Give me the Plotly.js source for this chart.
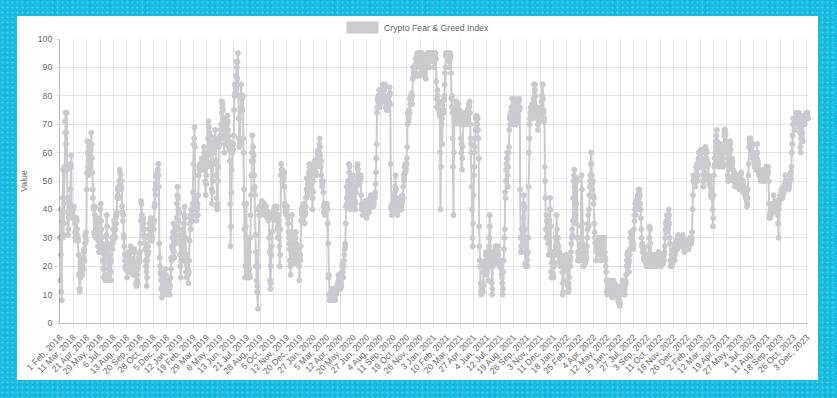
<!DOCTYPE html>
<html>
<head>
<meta charset="utf-8">
<script src="https://cdn.plot.ly/plotly-3.0.1.min.js"></script>
<style>
  html, body { margin: 0; padding: 0; }
  body {
    width: 837px; height: 398px; overflow: hidden; position: relative;
    background-color: #16bde0;
    background-image:
      radial-gradient(rgba(255,255,255,0.18) 1px, transparent 1.3px),
      radial-gradient(rgba(0,60,90,0.12) 1px, transparent 1.3px);
    background-size: 5px 5px, 7px 6px;
    background-position: 0 0, 2px 3px;
  }
  #panel { position: absolute; left: 17px; top: 16px; width: 801px; height: 364px; background: #ffffff; }
  #chart { position: absolute; left: 0; top: 0; width: 837px; height: 398px; }
</style>
</head>
<body>
<div id="panel"></div>
<div id="chart"></div>
<script>
// ---- data (daily Crypto Fear & Greed Index values) ----
const seriesName = 'Crypto Fear & Greed Index';
const startDate = '2018-02-01';
const missingDays = ['2018-04-14', '2018-04-15', '2018-04-16'];

const fng2018 = [
30,15,40,24,11,8,36,30,44,54,31,42,35,55,71,67,74,63,67,74,54,44,39,31,33,37,44,41,
38,47,56,55,59,40,37,38,40,41,40,37,41,37,35,32,30,29,31,37,36,33,31,30,29,24,17,12,11,12,18,
16,20,22,18,17,21,22,23,19,25,26,22,28,31,30,32,29,47,53,64,60,55,52,58,62,57,63,
54,56,61,67,63,58,53,47,44,41,40,32,31,38,41,36,30,33,35,37,33,30,27,31,29,25,27,32,36,40,42,
36,33,30,28,25,22,26,19,16,21,25,17,15,24,27,31,38,34,28,23,26,16,19,15,17,21,24,18,15,22,
27,30,26,28,33,29,33,36,31,35,30,33,37,35,38,39,44,47,45,48,44,47,50,54,53,49,52,47,48,50,41,
39,36,38,31,30,27,24,22,20,19,24,22,19,16,20,18,24,25,22,21,18,20,23,27,25,20,21,19,22,21,18,
17,21,25,26,20,17,19,18,14,13,15,17,14,19,22,21,23,24,22,25,28,36,43,42,38,37,33,36,37,35,
31,33,30,28,26,22,20,18,13,16,22,24,27,25,30,33,35,31,33,36,37,34,31,29,30,33,35,35,33,36,41,
42,47,45,49,52,48,51,53,50,54,56,52,48,28,23,20,18,17,15,12,9,13,11,10,12,14,16,18,15,17,
19,17,15,13,14,11,10,12,15,13,11,14,12,10,13,16,19,23,22,27,30,26,32,35,28,25,23,30,34,31,28
];

const fng2019 = [
33,37,42,45,48,44,40,36,39,31,29,24,20,16,22,27,24,30,33,28,22,25,35,38,41,37,30,24,18,21,16,
20,24,19,17,14,18,22,29,35,38,33,37,40,38,36,40,42,46,56,63,65,69,62,44,40,42,38,36,
41,40,42,38,45,52,55,54,55,56,54,55,56,54,58,57,55,54,56,58,62,60,56,54,50,45,49,52,55,57,59,
56,65,71,69,67,66,63,66,62,60,55,47,42,46,50,56,60,64,61,63,65,68,65,57,52,44,41,40,42,50,
55,62,64,63,65,63,66,68,70,74,78,76,77,75,72,70,65,60,63,68,70,72,68,66,64,70,73,71,68,66,62,
64,61,57,42,27,34,46,54,62,60,63,61,63,66,75,80,84,81,83,84,87,92,90,86,92,95,80,72,65,62,
64,63,75,80,84,79,76,79,75,80,65,60,47,42,33,16,20,34,30,42,26,20,18,16,22,30,25,19,17,16,30,
38,45,52,57,60,66,60,62,57,59,52,47,48,45,31,20,25,15,11,13,11,5,20,40,38,41,40,41,38,40,41,
40,43,42,40,41,40,39,41,42,40,38,39,40,41,39,38,37,38,39,38,36,37,30,25,15,12,14,20,24,27,
32,37,38,38,39,38,40,41,38,39,36,38,40,41,37,33,30,34,38,36,30,27,20,24,33,52,56,54,53,50,54,
50,51,52,53,48,42,41,39,40,38,41,40,41,38,37,35,32,30,28,26,22,20,17,21,22,30,38,32,31,28,
27,25,21,22,24,26,30,32,28,25,22,24,26,22,21,23,20,15,23,24,22,27,36,40,39,38,41,39,41,42,38
];

const fng2020 = [
38,35,38,39,41,44,47,51,47,45,49,46,47,53,56,55,53,54,52,48,49,50,47,40,44,46,50,56,55,57,56,
55,56,53,52,55,56,58,60,59,61,58,60,63,65,62,59,55,52,57,50,48,49,50,46,41,39,42,40,38,
40,39,41,40,42,41,40,35,28,16,17,10,8,10,9,8,11,9,10,12,10,9,8,12,10,11,12,9,8,11,10,
12,11,13,12,14,13,17,15,16,17,14,13,12,15,14,13,18,20,21,18,16,20,22,24,26,28,27,35,41,48,
44,42,48,50,45,49,56,53,55,44,40,42,45,47,50,46,48,52,50,48,45,41,42,43,40,42,46,50,48,52,55,
56,54,50,52,49,50,51,50,52,51,45,40,42,41,38,41,42,41,39,40,41,42,43,41,38,37,38,39,40,42,
41,40,39,42,43,44,42,45,43,41,42,43,44,42,41,43,42,44,45,44,46,49,53,58,63,74,76,79,78,80,79,
82,76,78,77,79,82,80,81,78,80,84,78,80,83,82,80,83,84,79,76,78,75,77,76,79,76,75,77,78,80,83,
81,77,56,41,40,38,40,42,41,39,41,43,45,42,46,48,52,47,44,42,40,38,39,41,40,42,41,43,40,42,
44,43,41,40,42,45,43,44,48,52,50,51,55,53,56,55,54,56,58,62,70,74,73,71,72,75,74,79,77,80,78,
79,81,77,80,86,90,88,87,89,88,90,91,93,88,87,90,94,95,92,93,95,94,92,95,94,87,88,90,92,93,
95,91,94,92,88,91,92,90,87,88,89,86,90,92,91,93,95,95,94,95,93,90,94,92,93,95,95,94,93,95,95
];

const fng2021 = [
94,95,93,92,90,94,95,94,95,93,85,79,76,82,80,77,78,75,77,74,73,60,40,55,73,70,72,63,75,78,75,
74,79,80,84,88,90,94,95,94,95,95,94,95,95,93,94,92,90,93,95,94,88,79,76,80,74,65,55,
38,60,72,76,74,70,73,75,78,76,73,74,75,77,74,71,73,75,72,72,70,65,60,63,54,58,62,70,72,74,72,
73,70,74,73,71,72,74,70,72,74,75,74,76,77,76,78,74,70,65,63,60,48,40,30,27,35,45,52,55,60,
62,65,68,72,70,73,68,70,72,68,65,58,34,27,22,20,14,11,10,13,11,12,14,11,13,18,21,20,17,19,22,
24,25,22,20,18,21,23,15,22,27,30,38,34,25,24,20,22,14,10,12,21,20,24,25,22,21,24,26,27,25,
23,22,24,26,25,27,24,21,22,20,21,22,20,21,19,17,16,14,10,12,18,22,26,30,33,46,44,50,54,56,58,
60,52,48,55,60,62,68,72,73,70,74,72,76,75,79,75,71,72,70,74,76,79,77,74,73,72,70,73,72,71,74,
73,76,78,79,75,76,47,30,25,27,30,33,25,28,37,42,45,40,41,33,21,20,27,30,27,24,22,20,25,30,
48,60,65,70,72,74,76,73,75,77,75,72,74,76,79,84,78,80,82,84,80,74,73,75,76,72,70,68,72,74,71,
73,75,74,73,76,75,78,80,84,84,79,75,74,71,72,55,50,44,33,30,38,36,30,33,35,28,24,30,36,40,
44,40,34,18,16,21,25,24,20,17,16,20,24,21,25,30,27,24,30,38,33,28,26,30,27,24,25,22,23,20,21
];

const fng2022 = [
23,24,22,21,18,10,14,11,15,19,21,23,22,20,22,24,21,19,21,18,13,11,14,12,16,20,22,20,23,25,28,
30,33,31,36,44,50,52,54,48,46,42,38,35,42,51,50,30,25,22,24,23,25,23,22,27,30,28,34,
52,47,35,28,24,22,20,23,26,22,21,24,22,25,23,27,30,33,35,38,34,40,45,48,50,52,56,60,56,52,49,
47,50,45,42,44,35,32,30,28,30,26,22,25,27,28,30,29,24,26,28,30,27,25,26,22,24,25,27,30,28,
26,25,27,28,30,25,23,22,20,18,15,11,10,12,14,13,11,14,12,15,13,12,14,11,13,10,9,11,13,12,15,
13,12,14,10,11,12,10,11,13,12,10,9,8,10,7,8,7,6,7,10,12,11,13,12,14,15,13,12,10,11,
12,10,13,15,14,17,20,22,24,25,22,20,21,18,22,24,26,30,32,30,28,31,30,29,27,26,28,33,38,36,40,
42,38,40,43,41,40,44,42,45,47,44,46,47,45,42,40,37,33,30,27,28,25,27,26,23,22,25,23,22,24,21,
22,20,22,21,23,22,20,24,27,30,34,33,28,22,24,21,20,22,20,23,21,20,22,24,21,20,22,20,21,23,
21,20,22,24,23,25,22,21,20,22,21,22,20,24,22,21,23,22,21,23,22,24,25,27,30,33,35,32,36,38,35,
33,34,37,40,38,35,30,28,22,20,22,24,20,21,23,22,24,25,26,27,22,24,25,27,28,29,27,26,28,29,
31,30,28,27,29,28,29,28,30,29,27,28,29,31,30,28,27,26,25,27,29,28,27,28,27,28,27,26,28,27,26
];

const fng2023 = [
27,28,29,30,29,30,28,29,30,32,40,45,50,52,51,49,52,50,48,51,55,52,54,56,50,52,55,58,60,57,55,
58,60,58,61,60,58,56,57,55,50,48,52,50,52,53,60,62,60,61,58,60,57,55,56,52,51,50,49,
51,50,48,45,46,47,45,44,40,34,37,45,52,55,58,56,60,62,64,66,68,64,61,62,58,60,57,55,56,60,62,
63,61,60,58,59,57,56,55,58,62,66,68,67,68,66,64,62,63,60,56,52,50,51,50,54,58,62,64,63,61,
57,55,58,56,57,54,52,50,51,53,50,48,49,50,52,51,50,52,50,49,51,50,52,48,47,49,50,52,51,53,50,
48,47,49,50,46,48,47,48,47,45,46,44,45,43,41,42,44,47,52,56,62,65,64,63,65,64,61,60,62,63,
60,58,59,60,58,57,55,56,55,56,54,55,58,63,60,57,56,54,53,52,53,54,52,50,51,52,53,52,51,53,52,
50,54,53,51,50,52,51,53,55,52,53,52,54,55,53,50,42,37,38,37,39,40,38,39,40,41,40,39,42,45,41,
40,41,42,41,40,42,41,43,42,40,38,35,30,40,42,43,44,45,44,46,47,45,46,44,45,47,48,46,47,48,
49,52,50,49,48,50,49,48,49,50,48,47,48,49,50,52,53,51,53,55,60,63,66,70,72,70,72,70,68,70,72,
70,74,72,70,71,72,70,73,72,74,70,69,67,62,60,65,68,66,65,67,64,70,71,73,72,71,70,72,73,72,
74,73,72,74,73,72
];

const tickLabels = [
'1 Feb, 2018','11 Mar, 2018','21 Apr, 2018','29 May, 2018','6 Jul, 2018','13 Aug, 2018','20 Sep, 2018',
'28 Oct, 2018','5 Dec, 2018','12 Jan, 2019','19 Feb, 2019','29 Mar, 2019','6 May, 2019','13 Jun, 2019',
'21 Jul, 2019','28 Aug, 2019','5 Oct, 2019','12 Nov, 2019','20 Dec, 2019','27 Jan, 2020','5 Mar, 2020',
'12 Apr, 2020','20 May, 2020','27 Jun, 2020','4 Aug, 2020','11 Sep, 2020','19 Oct, 2020','26 Nov, 2020',
'3 Jan, 2021','10 Feb, 2021','20 Mar, 2021','27 Apr, 2021','4 Jun, 2021','12 Jul, 2021','19 Aug, 2021',
'26 Sep, 2021','3 Nov, 2021','11 Dec, 2021','18 Jan, 2022','25 Feb, 2022','4 Apr, 2022','12 May, 2022',
'19 Jun, 2022','27 Jul, 2022','3 Sep, 2022','11 Oct, 2022','18 Nov, 2022','26 Dec, 2022','2 Feb, 2023',
'12 Mar, 2023','19 Apr, 2023','27 May, 2023','4 Jul, 2023','11 Aug, 2023','18 Sep, 2023','26 Oct, 2023',
'3 Dec, 2023'
];
const yTicks = [0, 10, 20, 30, 40, 50, 60, 70, 80, 90, 100];

// ---- build ----
const values = [].concat(fng2018, fng2019, fng2020, fng2021, fng2022, fng2023);
const MONTHS = ['Jan','Feb','Mar','Apr','May','Jun','Jul','Aug','Sep','Oct','Nov','Dec'];
const categories = [];
{
  const d = new Date(startDate + 'T00:00:00Z');
  while (categories.length < values.length) {
    const iso = d.toISOString().slice(0, 10);
    if (missingDays.indexOf(iso) < 0) {
      categories.push(d.getUTCDate() + ' ' + MONTHS[d.getUTCMonth()] + ', ' + d.getUTCFullYear());
    }
    d.setUTCDate(d.getUTCDate() + 1);
  }
}

const GREY = 'rgb(201,203,207)';
const FONT = 'Liberation Sans, Arial, Helvetica, sans-serif';
const TXT = '#666666';
const FS = 8.7;
const W = 837, H = 398;
const M = { l: 60, r: 29, t: 39, b: 75 };
const pw = W - M.l - M.r, ph = H - M.t - M.b;
// legend placement in pixels -> paper coords
const px = v => (v - M.l) / pw;
const py = v => (H - M.b - v) / ph;

const trace = {
  type: 'scatter',
  mode: 'lines+markers',
  name: seriesName,
  x: categories,
  y: values,
  line: { color: GREY, width: 2 },
  marker: { color: GREY, size: 5, line: { color: GREY, width: 1 } },
  cliponaxis: false,
  showlegend: false,
  hoverinfo: 'x+y'
};

const layout = {
  width: W, height: H,
  margin: M,
  paper_bgcolor: 'rgba(0,0,0,0)',
  plot_bgcolor: 'rgba(0,0,0,0)',
  font: { family: FONT, size: FS, color: TXT },
  showlegend: false,
  xaxis: {
    type: 'category',
    range: [0, values.length - 1],
    tickmode: 'array',
    tickvals: tickLabels,
    ticktext: tickLabels,
    tickangle: -45,
    tickfont: { family: FONT, size: FS, color: TXT },
    showgrid: true,
    gridcolor: 'rgba(0,0,0,0.1)',
    gridwidth: 1,
    showline: true,
    linecolor: 'rgba(0,0,0,0.25)',
    linewidth: 1,
    ticks: 'outside',
    ticklen: 5,
    tickcolor: 'rgba(0,0,0,0.1)',
    zeroline: false,
    fixedrange: true
  },
  yaxis: {
    range: [0, 100],
    tickmode: 'array',
    tickvals: yTicks,
    ticktext: yTicks.map(String),
    tickfont: { family: FONT, size: FS, color: TXT },
    showgrid: true,
    gridcolor: 'rgba(0,0,0,0.1)',
    gridwidth: 1,
    showline: true,
    linecolor: 'rgba(0,0,0,0.25)',
    linewidth: 1,
    ticks: 'outside',
    ticklen: 5,
    tickcolor: 'rgba(0,0,0,0.1)',
    zeroline: false,
    title: { text: 'Value', font: { family: FONT, size: FS, color: TXT }, standoff: 8 },
    fixedrange: true
  },
  shapes: [{
    type: 'rect', xref: 'paper', yref: 'paper',
    x0: px(347), x1: px(378), y0: py(33), y1: py(22),
    fillcolor: GREY, line: { color: GREY, width: 1 }
  }],
  annotations: [{
    xref: 'paper', yref: 'paper',
    x: px(382), y: py(27.5),
    xanchor: 'left', yanchor: 'middle',
    text: seriesName, showarrow: false,
    font: { family: FONT, size: FS, color: TXT }
  }]
};

Plotly.newPlot('chart', [trace], layout, { displayModeBar: false, staticPlot: true });
</script>
</body>
</html>
